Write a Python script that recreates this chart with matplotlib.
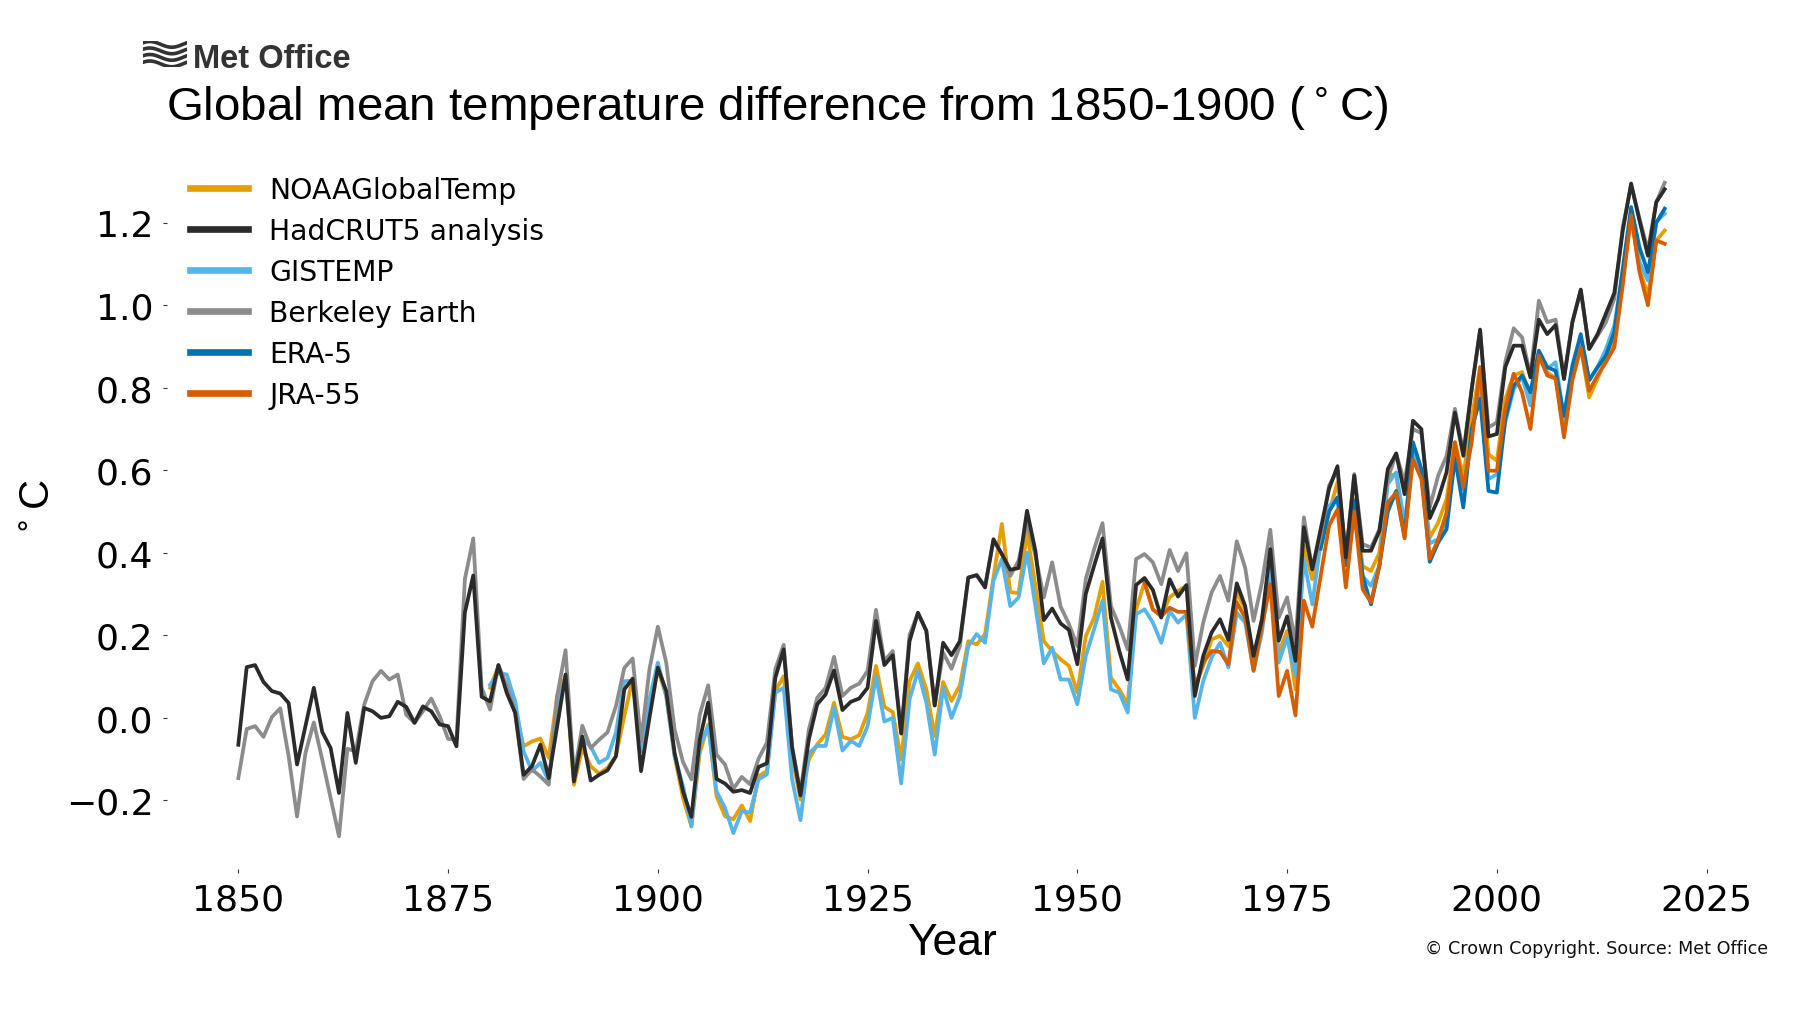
#!/usr/bin/env python3
"""Global mean temperature difference from 1850-1900, six datasets."""
import matplotlib

matplotlib.use("Agg")

import matplotlib.pyplot as plt
import numpy as np

W, H = 1800, 1020

hadcrut = [
    -0.065, 0.123, 0.128, 0.087, 0.065, 0.059, 0.036, -0.113, -0.02, 0.073,
    -0.034, -0.073, -0.182, 0.012, -0.109, 0.024, 0.016, 0.0, 0.004, 0.039,
    0.027, -0.012, 0.028, 0.016, -0.016, -0.02, -0.069, 0.255, 0.345, 0.051,
    0.04, 0.128, 0.06, 0.012, -0.138, -0.117, -0.065, -0.146, -0.02, 0.105,
    -0.154, -0.045, -0.152, -0.138, -0.127, -0.093, 0.069, 0.095, -0.129, 0.0,
    0.122, 0.065, -0.085, -0.178, -0.24, -0.052, 0.037, -0.148, -0.159, -0.179,
    -0.175, -0.182, -0.119, -0.11, 0.097, 0.166, -0.072, -0.188, -0.052, 0.033,
    0.057, 0.115, 0.019, 0.039, 0.047, 0.073, 0.235, 0.128, 0.152, -0.038,
    0.186, 0.255, 0.211, 0.03, 0.182, 0.152, 0.186, 0.34, 0.346, 0.316,
    0.433, 0.397, 0.359, 0.363, 0.502, 0.405, 0.237, 0.265, 0.229, 0.213,
    0.13, 0.30, 0.369, 0.435, 0.243, 0.162, 0.093, 0.322, 0.339, 0.31,
    0.243, 0.336, 0.294, 0.322, 0.053, 0.15, 0.207, 0.239, 0.189, 0.326,
    0.271, 0.15, 0.239, 0.409, 0.187, 0.246, 0.138, 0.462, 0.36, 0.458,
    0.555, 0.61, 0.389, 0.587, 0.405, 0.405, 0.453, 0.603, 0.641, 0.542,
    0.72, 0.70, 0.484, 0.53, 0.595, 0.74, 0.635, 0.797, 0.941, 0.682,
    0.688, 0.85, 0.902, 0.902, 0.825, 0.965, 0.93, 0.952, 0.821, 0.959,
    1.038, 0.894, 0.93, 0.98, 1.03, 1.18, 1.295, 1.205, 1.12, 1.25,
    1.281,
]

berkeley = [
    -0.146, -0.027, -0.02, -0.046, 0.002, 0.023, -0.093, -0.239, -0.085, -0.011,
    -0.101, -0.194, -0.287, -0.075, -0.081, 0.032, 0.089, 0.114, 0.093, 0.105,
    0.008, -0.012, 0.016, 0.047, 0.004, -0.051, -0.053, 0.336, 0.435, 0.073,
    0.02, 0.128, 0.077, 0.012, -0.148, -0.125, -0.142, -0.162, 0.053, 0.164,
    -0.142, -0.019, -0.073, -0.053, -0.035, 0.028, 0.121, 0.144, -0.057, 0.118,
    0.221, 0.134, -0.028, -0.107, -0.149, 0.008, 0.079, -0.089, -0.113, -0.172,
    -0.143, -0.161, -0.099, -0.06, 0.118, 0.177, -0.068, -0.182, -0.028, 0.049,
    0.073, 0.148, 0.053, 0.073, 0.083, 0.114, 0.262, 0.138, 0.162, -0.036,
    0.201, 0.253, 0.211, 0.03, 0.158, 0.119, 0.174, 0.34, 0.346, 0.32,
    0.429, 0.397, 0.344, 0.381, 0.474, 0.393, 0.292, 0.377, 0.27, 0.227,
    0.174, 0.336, 0.409, 0.472, 0.271, 0.223, 0.166, 0.385, 0.397, 0.377,
    0.324, 0.407, 0.356, 0.399, 0.126, 0.231, 0.304, 0.344, 0.284, 0.428,
    0.364, 0.235, 0.328, 0.456, 0.243, 0.292, 0.182, 0.486, 0.36, 0.441,
    0.563, 0.60, 0.393, 0.591, 0.421, 0.413, 0.457, 0.58, 0.64, 0.57,
    0.70, 0.69, 0.51, 0.587, 0.635, 0.749, 0.643, 0.797, 0.939, 0.704,
    0.716, 0.862, 0.944, 0.922, 0.829, 1.011, 0.959, 0.965, 0.825, 0.959,
    1.036, 0.894, 0.926, 0.959, 1.016, 1.19, 1.29, 1.21, 1.133, 1.25,
    1.297,
]

noaa = [
    0.073, 0.125, 0.069, 0.02, -0.069, -0.057, -0.05, -0.097, 0.053, 0.101,
    -0.162, -0.073, -0.117, -0.135, -0.121, -0.093, 0.004, 0.095, -0.08, 0.037,
    0.118, 0.053, -0.093, -0.194, -0.263, -0.085, -0.016, -0.19, -0.238, -0.246,
    -0.212, -0.25, -0.141, -0.129, 0.065, 0.101, -0.093, -0.198, -0.101, -0.064,
    -0.04, 0.037, -0.046, -0.052, -0.042, 0.012, 0.126, 0.027, 0.014, -0.101,
    0.089, 0.132, 0.069, -0.044, 0.087, 0.041, 0.079, 0.186, 0.178, 0.203,
    0.34, 0.47, 0.305, 0.302, 0.449, 0.32, 0.186, 0.162, 0.142, 0.126,
    0.061, 0.198, 0.243, 0.33, 0.097, 0.069, 0.033, 0.263, 0.328, 0.263,
    0.247, 0.292, 0.308, 0.32, 0.073, 0.126, 0.19, 0.199, 0.174, 0.304,
    0.263, 0.142, 0.239, 0.352, 0.158, 0.211, 0.069, 0.417, 0.336, 0.425,
    0.498, 0.571, 0.401, 0.53, 0.368, 0.356, 0.40, 0.587, 0.59, 0.44,
    0.65, 0.60, 0.437, 0.473, 0.53, 0.668, 0.587, 0.725, 0.85, 0.639,
    0.623, 0.773, 0.83, 0.838, 0.781, 0.878, 0.838, 0.822, 0.708, 0.83,
    0.898, 0.777, 0.822, 0.87, 0.918, 1.076, 1.214, 1.088, 1.024, 1.157,
    1.181,
]

gistemp = [
    0.08, 0.11, 0.105, 0.04, -0.081, -0.129, -0.109, -0.154, 0.03, 0.093,
    -0.133, -0.05, -0.07, -0.109, -0.097, -0.036, 0.089, 0.09, -0.08, 0.045,
    0.134, 0.053, -0.093, -0.165, -0.263, -0.068, -0.02, -0.178, -0.218, -0.279,
    -0.226, -0.229, -0.149, -0.137, 0.061, 0.073, -0.149, -0.248, -0.085, -0.068,
    -0.068, 0.025, -0.079, -0.056, -0.068, -0.02, 0.101, -0.009, 0.0, -0.159,
    0.045, 0.114, 0.037, -0.089, 0.073, 0.0, 0.053, 0.174, 0.203, 0.182,
    0.332, 0.385, 0.271, 0.292, 0.401, 0.271, 0.132, 0.17, 0.093, 0.093,
    0.033, 0.15, 0.215, 0.284, 0.069, 0.061, 0.013, 0.251, 0.263, 0.231,
    0.182, 0.259, 0.231, 0.251, 0.0, 0.089, 0.146, 0.182, 0.122, 0.255,
    0.231, 0.114, 0.207, 0.36, 0.134, 0.195, 0.102, 0.385, 0.275, 0.425,
    0.514, 0.534, 0.377, 0.522, 0.344, 0.32, 0.369, 0.567, 0.595, 0.47,
    0.643, 0.587, 0.423, 0.433, 0.48, 0.635, 0.554, 0.684, 0.813, 0.579,
    0.59, 0.716, 0.797, 0.826, 0.757, 0.878, 0.846, 0.862, 0.725, 0.846,
    0.918, 0.818, 0.85, 0.894, 0.951, 1.08, 1.222, 1.105, 1.06, 1.202,
    1.222,
]

era5 = [
    0.41, 0.50, 0.534, 0.37, 0.526, 0.344, 0.275, 0.369, 0.50, 0.55,
    0.44, 0.668, 0.603, 0.378, 0.425, 0.457, 0.63, 0.51, 0.70, 0.773,
    0.55, 0.546, 0.724, 0.805, 0.83, 0.789, 0.89, 0.85, 0.841, 0.732,
    0.854, 0.93, 0.818, 0.85, 0.878, 0.935, 1.088, 1.238, 1.14, 1.08,
    1.2, 1.234,
]

jra55 = [
    0.328, 0.263, 0.246, 0.267, 0.257, 0.257, 0.073, 0.134, 0.162, 0.16,
    0.13, 0.28, 0.243, 0.114, 0.223, 0.324, 0.053, 0.114, 0.006, 0.284,
    0.221, 0.344, 0.466, 0.505, 0.316, 0.50, 0.312, 0.28, 0.369, 0.522,
    0.546, 0.435, 0.626, 0.579, 0.386, 0.432, 0.498, 0.668, 0.559, 0.668,
    0.85, 0.599, 0.599, 0.749, 0.834, 0.789, 0.70, 0.878, 0.83, 0.822,
    0.68, 0.818, 0.898, 0.793, 0.83, 0.862, 0.898, 1.048, 1.218, 1.08,
    1.0, 1.157, 1.149,
]

# name, first year, values, colour, zorder (legend order follows this list)
SERIES = [
    ("NOAAGlobalTemp", 1880, noaa, "#E69F00", 2),
    ("HadCRUT5 analysis", 1850, hadcrut, "#2B2B2B", 8),
    ("GISTEMP", 1880, gistemp, "#56B4E9", 3),
    ("Berkeley Earth", 1850, berkeley, "#8C8C8C", 7),
    ("ERA-5", 1979, era5, "#0072B2", 4),
    ("JRA-55", 1958, jra55, "#D55E00", 5),
]

fig = plt.figure(figsize=(W / 100, H / 100), dpi=100)
ax = fig.add_axes([167 / W, 1 - 870 / H, (1736 - 167) / W, (870 - 151) / H])

for name, start, values, colour, z in SERIES:
    years = np.arange(start, start + len(values))
    ax.plot(years, values, color=colour, lw=2.7, label=name, zorder=z)

for side in ax.spines.values():
    side.set_visible(False)
ax.tick_params(axis="both", labelsize=26, length=3, width=0.8, color="0.2", pad=6.8)
ax.set_xlabel("Year", fontsize=32, family="Liberation Sans", labelpad=4)
ax.set_ylabel(r"$^\circ$C", fontsize=30, family="Liberation Sans", labelpad=5)

leg = ax.legend(loc="upper left", bbox_to_anchor=(0.0, 0.9956), frameon=False,
                fontsize=20.3, handlelength=2.08, handletextpad=0.74,
                labelspacing=0.461, borderpad=0.3)
for line in leg.get_lines():
    line.set_linewidth(4.8)

fig.text(166 / W, 1 - 108.5 / H, r"Global mean temperature difference from 1850-1900 ($^\circ$C)",
         fontsize=34.2, family="Liberation Sans", ha="left", va="center", color="black")
fig.text(1768 / W, 1 - 949 / H, "\u00a9 Crown Copyright. Source: Met Office",
         fontsize=12.6, ha="right", va="center", color="#111111")

# logo: wavy bands and the wordmark
logo = fig.add_axes([143 / W, 1 - 68 / H, 44 / W, 26 / H])
logo.set_axis_off()
t = np.linspace(0, 1, 60)
for off in [0.12, 0.37, 0.62, 0.87]:
    logo.plot(t, off + 0.11 * np.sin(2 * np.pi * t + 0.6), color="#333333", lw=2.6)
logo.set_xlim(0, 1)
logo.set_ylim(0, 1)
fig.text(193 / W, 1 - 68 / H, "Met Office", fontsize=23.5,
         family="Liberation Sans", weight="bold",
         color="#333333", ha="left", va="baseline")

fig.savefig("out.png", dpi=100)
